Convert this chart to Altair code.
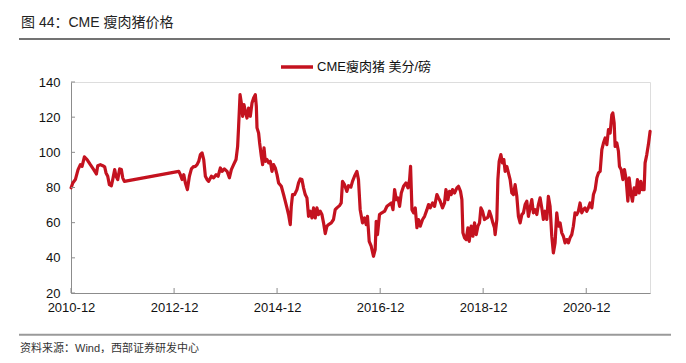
import altair as alt
import pandas as pd

# ---- data (time as decimal years, price in US cents / lb) ----
dec_year = [
    2010.917, 2010.949, 2011.000, 2011.052, 2011.097, 2011.130, 2011.175, 2011.227, 2011.291, 2011.356,
    2011.408, 2011.434, 2011.485, 2011.531, 2011.569, 2011.595, 2011.628, 2011.660, 2011.699, 2011.725,
    2011.763, 2011.789, 2011.822, 2011.860, 2011.893, 2011.919, 2011.951,
    2013.005, 2013.037, 2013.070, 2013.102, 2013.134, 2013.173, 2013.212, 2013.251, 2013.283, 2013.328,
    2013.361, 2013.393, 2013.425, 2013.458, 2013.490, 2013.522,
    2013.555, 2013.586, 2013.639, 2013.683, 2013.730, 2013.769, 2013.813, 2013.846, 2013.891, 2013.943,
    2013.988, 2014.027, 2014.071, 2014.118, 2014.149, 2014.168, 2014.196, 2014.221, 2014.246, 2014.273,
    2014.298, 2014.331, 2014.362, 2014.395, 2014.428, 2014.459, 2014.492, 2014.512, 2014.525, 2014.556,
    2014.576, 2014.609, 2014.634, 2014.661, 2014.686, 2014.719, 2014.750, 2014.783, 2014.816, 2014.847,
    2014.880, 2014.913, 2014.944, 2014.997, 2015.041, 2015.074, 2015.107, 2015.138, 2015.171, 2015.191,
    2015.216, 2015.255, 2015.301, 2015.332, 2015.365, 2015.398, 2015.429, 2015.462, 2015.495, 2015.526,
    2015.559, 2015.592, 2015.623, 2015.656, 2015.689, 2015.720, 2015.753, 2015.786, 2015.817, 2015.850,
    2015.883, 2015.914, 2015.967, 2016.011, 2016.044, 2016.077, 2016.128, 2016.161, 2016.186, 2016.225,
    2016.271, 2016.302, 2016.349, 2016.380, 2016.419, 2016.465, 2016.496, 2016.529, 2016.574, 2016.613,
    2016.646, 2016.671, 2016.704, 2016.743, 2016.787, 2016.820, 2016.840, 2016.865, 2016.904, 2016.950,
    2017.001, 2017.047, 2017.092, 2017.131, 2017.164, 2017.195, 2017.228, 2017.261, 2017.292, 2017.325,
    2017.369, 2017.416, 2017.455, 2017.486, 2017.505, 2017.532, 2017.563, 2017.596, 2017.629, 2017.660,
    2017.693, 2017.738, 2017.777, 2017.823, 2017.854, 2017.887, 2017.932, 2017.971, 2018.017, 2018.048,
    2018.081, 2018.126, 2018.165, 2018.192, 2018.231, 2018.262, 2018.295, 2018.320, 2018.359, 2018.405,
    2018.436, 2018.475, 2018.502, 2018.522, 2018.553, 2018.586, 2018.619, 2018.644, 2018.683, 2018.716,
    2018.747, 2018.780, 2018.813, 2018.844, 2018.871, 2018.902, 2018.941, 2018.974, 2019.007, 2019.038,
    2019.071, 2019.104, 2019.135, 2019.148, 2019.181, 2019.201, 2019.226, 2019.259, 2019.290, 2019.317,
    2019.342, 2019.375, 2019.406, 2019.439, 2019.472, 2019.503, 2019.536, 2019.569, 2019.600, 2019.633,
    2019.666, 2019.697, 2019.730, 2019.763, 2019.794, 2019.827, 2019.860, 2019.891, 2019.924, 2019.957,
    2019.988, 2020.021, 2020.054, 2020.085, 2020.118, 2020.151, 2020.182, 2020.215, 2020.248, 2020.279,
    2020.312, 2020.345, 2020.376, 2020.409, 2020.442, 2020.473, 2020.506, 2020.539, 2020.570, 2020.603,
    2020.636, 2020.667, 2020.700, 2020.733, 2020.764, 2020.797, 2020.830, 2020.861, 2020.894, 2020.927,
    2020.958, 2020.991, 2021.024, 2021.055, 2021.088, 2021.121, 2021.152, 2021.185, 2021.218, 2021.249,
    2021.282, 2021.315, 2021.346, 2021.379, 2021.412, 2021.431, 2021.457, 2021.476, 2021.509, 2021.540,
    2021.560, 2021.593, 2021.626, 2021.657, 2021.690, 2021.723, 2021.748, 2021.781, 2021.812, 2021.845,
    2021.878, 2021.909, 2021.942, 2021.975, 2022.006, 2022.039, 2022.058, 2022.091, 2022.122, 2022.155,
]
price = [
    79.8, 82.6, 84.5, 90.2, 93.0, 92.0, 97.4, 95.9, 93.0, 90.2,
    87.7, 92.4, 93.0, 92.4, 91.7, 88.3, 86.4, 81.6, 81.0, 84.5,
    90.2, 86.4, 84.5, 90.6, 90.2, 85.5, 83.5,
    89.2, 87.3, 84.5, 87.3, 82.6, 78.8, 86.4, 90.6, 91.7, 92.0,
    93.0, 94.9, 98.7, 99.7, 95.9, 86.4,
    84.5, 83.5, 86.4, 85.5, 87.3, 86.4, 91.1, 89.2, 90.6, 89.2,
    85.5, 90.2, 93.0, 95.9, 103.4, 114.8, 132.8, 128.1, 120.5, 127.1,
    123.3, 119.5, 125.2, 120.5, 128.1, 130.9, 132.8, 126.1, 113.9, 111.0,
    105.3, 97.7, 93.0, 102.5, 94.9, 95.9, 94.0, 94.9, 89.2, 93.0,
    91.1, 87.3, 82.6, 80.7, 76.0, 72.2, 68.4, 64.6, 58.9, 69.3,
    76.0, 76.0, 78.8, 82.6, 84.9, 84.5, 79.8, 76.0, 74.1, 63.6,
    66.5, 62.7, 68.4, 62.7, 68.4, 64.6, 66.5, 64.6, 59.9, 53.8,
    58.0, 58.9, 59.9, 61.8, 67.4, 68.4, 69.7, 71.2, 83.5, 81.6,
    77.8, 81.0, 80.2, 83.5, 86.4, 89.2, 84.5, 67.4, 59.9, 62.7,
    58.9, 63.6, 49.4, 46.6, 40.9, 44.7, 60.8, 53.2, 64.6, 65.6,
    66.5, 69.3, 70.3, 71.2, 67.4, 78.8, 73.1, 74.1, 69.3, 76.9,
    80.7, 82.6, 79.8, 84.5, 92.0, 67.4, 65.6, 68.4, 57.1, 61.8,
    58.0, 61.8, 63.6, 67.4, 70.3, 68.4, 71.2, 69.3, 76.0, 74.1,
    72.2, 68.4, 71.2, 78.8, 73.1, 77.8, 76.0, 78.8, 76.9, 79.8,
    80.7, 77.8, 73.1, 54.2, 51.4, 50.4, 57.1, 49.4, 58.0, 52.3,
    59.9, 53.2, 58.0, 59.9, 68.4, 66.5, 61.8, 62.5, 63.0, 66.5,
    63.6, 59.9, 57.1, 53.2, 61.8, 84.5, 94.9, 98.7, 94.0, 95.9,
    89.2, 92.0, 88.3, 84.5, 76.9, 76.0, 81.6, 75.0, 63.6, 59.9,
    64.6, 65.6, 70.3, 72.2, 63.6, 68.4, 73.1, 65.6, 67.4, 64.6,
    70.3, 74.1, 68.4, 61.8, 66.5, 61.8, 75.0, 69.3, 52.3, 42.8,
    48.5, 65.6, 58.0, 59.9, 54.2, 52.3, 48.5, 50.4, 48.5, 51.4,
    53.2, 58.0, 65.6, 64.6, 66.5, 71.2, 65.6, 67.4, 68.4, 66.5,
    68.4, 71.2, 68.4, 76.0, 78.8, 85.5, 88.3, 89.2, 101.5, 105.3,
    108.2, 104.4, 112.9, 111.0, 121.4, 122.4, 116.7, 103.4, 105.3, 100.6,
    92.0, 90.2, 84.5, 90.2, 84.5, 72.2, 85.5, 76.9, 72.2, 79.8,
    76.0, 84.5, 76.9, 83.5, 78.8, 78.8, 94.0, 98.7, 104.4, 111.9,
]
series_name = "CME瘦肉猪 美分/磅"
x_tick_years = [2010, 2012, 2014, 2016, 2018, 2020]
y_ticks = [20, 40, 60, 80, 100, 120, 140]
title_text = "图 44：CME 瘦肉猪价格"
source_text = "资料来源：Wind，西部证券研发中心"

FONT = "Liberation Sans, Arial, Noto Sans CJK SC, sans-serif"
RED = "#C4121F"
AXIS_GRAY = "#8c8c8c"


def to_iso(y):
    yi = int(y)
    ts = pd.Timestamp(yi, 1, 1) + pd.Timedelta(days=(y - yi) * 365.25)
    return ts.strftime("%Y-%m-%dT%H:%M:%S")


df = pd.DataFrame({
    "date": [to_iso(v) for v in dec_year],
    "price": price,
    "series": series_name,
})

W, H = 579, 211

x_scale = alt.Scale(
    domain=[alt.DateTime(year=2010, month=12, date=1),
            alt.DateTime(year=2022, month=2, date=26)],
    nice=False,
)
y_scale = alt.Scale(domain=[20, 140], nice=False, zero=False)

x_axis = alt.Axis(values=[alt.DateTime(year=y, month=12, date=1) for y in x_tick_years],
                  format="%Y-%m", tickSize=0, labelPadding=8, labelFlush=False,
                  labelOverlap=False, labelBound=False, grid=False, title=None,
                  domainColor=AXIS_GRAY, domainWidth=1,
                  labelFontSize=13, labelColor="#111", labelFont=FONT)
y_axis = alt.Axis(values=y_ticks, tickSize=0, labelPadding=11, grid=False, title=None,
                  labelOverlap=False, labelBound=False, labelFlush=False,
                  domainColor=AXIS_GRAY, domainWidth=1,
                  labelFontSize=13, labelColor="#111", labelFont=FONT)

line = alt.Chart(df).mark_line(strokeWidth=3.2, strokeJoin="round", strokeCap="round").encode(
    x=alt.X("date:T", scale=x_scale, axis=x_axis, title=None),
    y=alt.Y("price:Q", scale=y_scale, axis=y_axis, title=None),
    color=alt.Color("series:N", scale=alt.Scale(range=[RED]),
                    legend=alt.Legend(title=None, orient="none", legendX=208, legendY=-33,
                                      symbolType="stroke", symbolSize=1024,
                                      symbolStrokeWidth=3.5, labelOffset=2, padding=0,
                                      labelFontSize=13, labelColor="#111", labelFont=FONT)),
)

# inward tick marks (share the same axis definitions so the merged axes stay intact)
xt_df = pd.DataFrame({"d": [f"{y}-12-01T00:00:00" for y in x_tick_years]})
x_ticks_layer = alt.Chart(xt_df).mark_rule(color=AXIS_GRAY, strokeWidth=1).encode(
    x=alt.X("d:T", scale=x_scale, axis=x_axis, title=None),
    y=alt.value(H), y2=alt.value(H - 5))

yt_df = pd.DataFrame({"v": y_ticks})
y_ticks_layer = alt.Chart(yt_df).mark_rule(color=AXIS_GRAY, strokeWidth=1).encode(
    y=alt.Y("v:Q", scale=y_scale, axis=y_axis, title=None),
    x=alt.value(0), x2=alt.value(4))

# header / footer decorations
title_layer = alt.Chart(pd.DataFrame({"t": [title_text]})).mark_text(
    align="left", baseline="middle", fontSize=14, font=FONT, color="#222"
).encode(text="t:N", x=alt.value(-50), y=alt.value(-59))

top_rule = alt.Chart(pd.DataFrame({"k": [0]})).mark_rule(color="#444", strokeWidth=1.3).encode(
    x=alt.value(-52), x2=alt.value(599), y=alt.value(-43))

bottom_rule = alt.Chart(pd.DataFrame({"k": [0]})).mark_rule(color="#9a9a9a", strokeWidth=2).encode(
    x=alt.value(-52), x2=alt.value(600), y=alt.value(252.7))

source_layer = alt.Chart(pd.DataFrame({"t": [source_text]})).mark_text(
    align="left", baseline="middle", fontSize=11, font=FONT, color="#333"
).encode(text="t:N", x=alt.value(-51), y=alt.value(266.5))

chart = alt.layer(
    line, x_ticks_layer, y_ticks_layer, title_layer, top_rule, bottom_rule, source_layer
).properties(
    width=W, height=H,
    padding={"left": 63, "top": 74, "right": 28, "bottom": 60},
    autosize=alt.AutoSizeParams(type="none"),
).configure_view(stroke=None).configure(background="white")

chart.save("out.html", embed_options={"renderer": "svg", "actions": False})
